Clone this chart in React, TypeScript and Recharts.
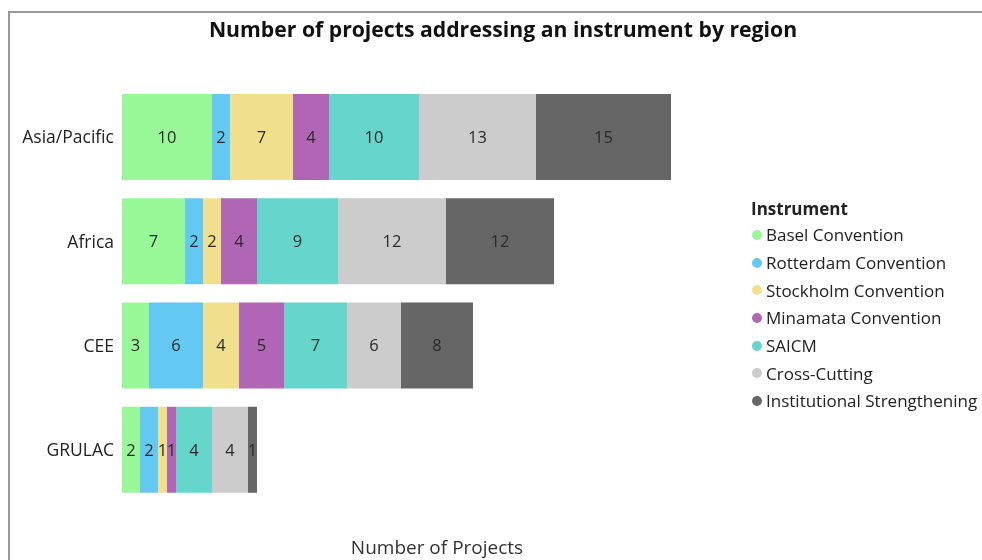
import React from 'react';
import { BarChart, Bar, XAxis, YAxis, LabelList } from 'recharts';

const regions = ['Asia/Pacific', 'Africa', 'CEE', 'GRULAC'];

const instruments = [
  'Basel Convention',
  'Rotterdam Convention',
  'Stockholm Convention',
  'Minamata Convention',
  'SAICM',
  'Cross-Cutting',
  'Institutional Strengthening',
];

const basel = [10, 7, 3, 2];
const rotterdam = [2, 2, 6, 2];
const stockholm = [7, 2, 4, 1];
const minamata = [4, 4, 5, 1];
const saicm = [10, 9, 7, 4];
const crossCutting = [13, 12, 6, 4];
const institutional = [15, 12, 8, 1];

const seriesValues = [basel, rotterdam, stockholm, minamata, saicm, crossCutting, institutional];

const colors = ['#98f898', '#63c9f2', '#f0e08e', '#b066b4', '#66d5cc', '#cccccc', '#666666'];

const FONT = '"Open Sans", "Noto Sans", sans-serif';

const data = regions.map((region, i) => {
  const row: Record<string, string | number> = { region };
  instruments.forEach((name, s) => {
    row[name] = seriesValues[s][i];
  });
  return row;
});

const LegendBox = () => (
  <div style={{ fontFamily: FONT, color: '#222' }}>
    <div style={{ fontWeight: 700, fontSize: 17, lineHeight: '20px', marginBottom: 2 }}>Instrument</div>
    {instruments.map((name, i) => (
      <div key={name} style={{ display: 'flex', alignItems: 'center', height: 27.7, fontSize: 17 }}>
        <span
          style={{
            display: 'inline-block',
            width: 10,
            height: 10,
            borderRadius: 5,
            background: colors[i],
            marginLeft: 1,
            marginRight: 4,
            flexShrink: 0,
          }}
        />
        <span style={{ whiteSpace: 'nowrap' }}>{name}</span>
      </div>
    ))}
  </div>
);

export default function App() {
  return (
    <div>
      <div
        style={{
          position: 'fixed',
          left: 8,
          top: 11,
          width: 990,
          height: 560,
          borderTop: '2px solid #999',
          borderLeft: '2px solid #999',
          boxSizing: 'border-box',
        }}
      />
      <div
        style={{
          position: 'fixed',
          left: 0,
          top: 14,
          width: 1006,
          textAlign: 'center',
          fontFamily: FONT,
          fontWeight: 700,
          fontSize: 21.2,
          color: '#111',
        }}
      >
        Number of projects addressing an instrument by region
      </div>
      <div
        style={{
          position: 'fixed',
          left: 0,
          top: 537,
          width: 874,
          height: 20,
          lineHeight: '20px',
          textAlign: 'center',
          fontFamily: FONT,
          fontSize: 19,
          color: '#333',
        }}
      >
        Number of Projects
      </div>
      <div style={{ position: 'fixed', left: 751, top: 199, width: 231 }}>
        <LegendBox />
      </div>
      <div style={{ position: 'fixed', left: 0, top: 0 }}>
        <BarChart
          width={982}
          height={560}
          data={data}
          layout="vertical"
          margin={{ top: 85, right: 230, bottom: 58, left: 12 }}
          barCategoryGap={9}
        >
          <XAxis type="number" domain={[0, 70]} hide />
          <YAxis
            type="category"
            dataKey="region"
            width={110}
            axisLine={false}
            tickLine={false}
            tickMargin={2}
            tick={{ fontFamily: FONT, fontSize: 17.5, fill: '#222' }}
          />
          {instruments.map((name, i) => (
            <Bar key={name} dataKey={name} stackId="a" fill={colors[i]} isAnimationActive={false}>
              <LabelList
                dataKey={name}
                position="center"
                style={{ fontFamily: FONT, fontSize: 16.5, fill: '#2a2a2a' }}
              />
            </Bar>
          ))}
        </BarChart>
      </div>
    </div>
  );
}
